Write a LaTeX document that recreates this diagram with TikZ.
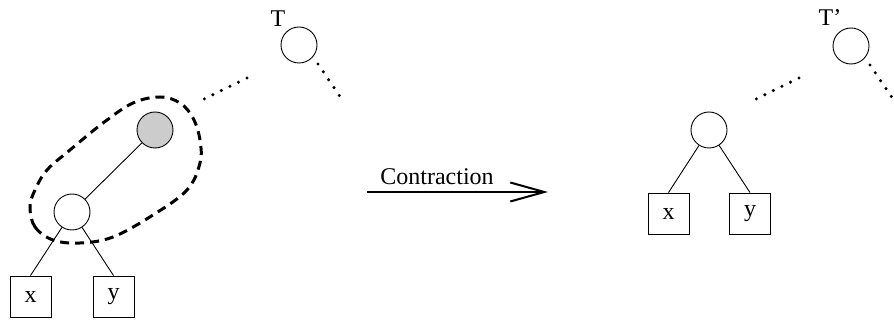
\documentclass[tikz,border=0pt]{standalone}
\usepackage{fontspec}
\setmainfont{Liberation Serif}
\usetikzlibrary{arrows.meta}
\begin{document}
\begin{tikzpicture}[x=1pt,y=-1pt,
  vertex/.style={circle,draw,line width=0.9pt,minimum size=36pt,inner sep=0pt},
  shaded/.style={vertex,fill=black!20},
  leaf/.style={rectangle,draw,line width=0.9pt,minimum size=41pt,inner sep=0pt,font=\fontsize{24}{28}\selectfont},
  edge/.style={line width=0.9pt},
  dotline/.style={line width=3.4pt,line cap=round,dash pattern=on 0pt off 9.5pt},
  region/.style={line width=3pt,dash pattern=on 9pt off 6pt},
  lbl/.style={font=\fontsize{24}{28}\selectfont,inner sep=0pt}
]
\useasboundingbox (0,0) rectangle (894,320);

% ---- tree T before contraction ----
\node[vertex] (t) at (299,45) {};
\node[lbl] (tl) at (278,19) {T};
\node[shaded] (g) at (155,130) {};
\node[vertex] (u) at (72,212) {};
\node[leaf] (x1) at (30.5,296.5) {x};
\node[leaf] (y1) at (113.5,296.5) {y};
\coordinate (t1a) at (318,64);
\coordinate (t1b) at (341,98);
\coordinate (p1a) at (247,78);
\coordinate (p1b) at (200,101);

\draw[edge] (g) -- (u);
\draw[edge] (u) -- (x1.north);
\draw[edge] (u) -- (y1.north);
\draw[dotline] (t1a) -- (t1b);
\draw[dotline] (p1a) -- (p1b);

% contracted region
\draw[region] plot[smooth cycle,tension=0.6] coordinates {
  (30,207) (35,227) (53,240) (80,243) (113,237) (153,215) (187,190)
  (200,163) (200,140) (193,118) (180,103) (160,97) (133,103) (103,123)
  (70,150) (47,170) (35,190)};

% ---- contraction arrow ----
\coordinate (a1) at (367,192);
\coordinate (a2) at (548,192);
\draw[line width=2pt,-{Straight Barb[length=34pt,width=19pt,line width=2pt]}] (a1) -- (a2);
\node[lbl] (ct) at (437,177) {Contraction};

% ---- tree T' after contraction ----
\node[vertex] (t2) at (851,46) {};
\node[lbl] (t2l) at (830,18) {T'};
\node[vertex] (v) at (709,130) {};
\node[leaf] (x2) at (668.5,213.5) {x};
\node[leaf] (y2) at (750,213.5) {y};
\coordinate (t2a) at (870,65);
\coordinate (t2b) at (893,99);
\coordinate (p2a) at (799,78);
\coordinate (p2b) at (752,101);

\draw[edge] (v) -- (x2.north);
\draw[edge] (v) -- (y2.north);
\draw[dotline] (t2a) -- (t2b);
\draw[dotline] (p2a) -- (p2b);
\end{tikzpicture}
\end{document}
